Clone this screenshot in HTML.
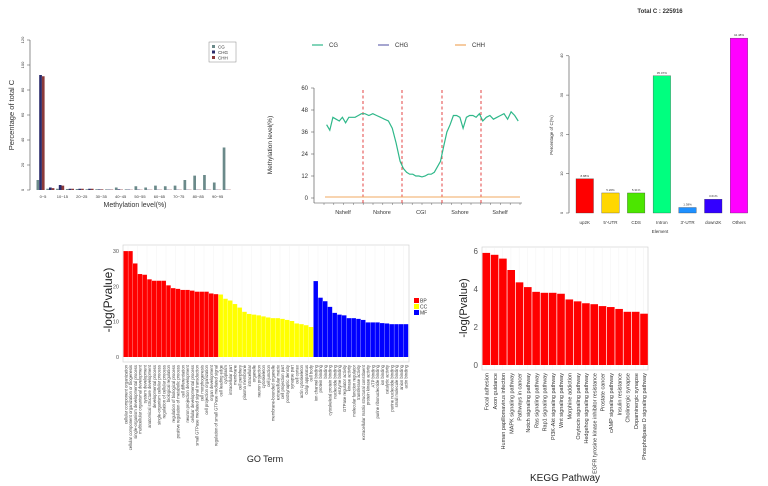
<!DOCTYPE html>
<html><head><meta charset="utf-8"><style>
html,body{margin:0;padding:0;background:#fff;}
svg{display:block;font-family:"Liberation Sans",Arial,sans-serif;}
</style></head><body>
<svg id="s" width="768" height="486" viewBox="0 0 768 486" xmlns="http://www.w3.org/2000/svg">
<g font-size="4.5" fill="#333">
<line x1="30" y1="40" x2="30" y2="190" stroke="#444" stroke-width="0.6"/>
<text x="14" y="115" font-size="7.5" transform="rotate(-90 14 115)" text-anchor="middle">Percentage of total C</text>
<text x="135" y="207" font-size="7" text-anchor="middle">Methylation level(%)</text>
<rect x="209" y="42" width="27" height="20" fill="#fff" stroke="#888" stroke-width="0.5"/>
<rect x="212" y="45" width="3" height="3" fill="#6b8a8a"/><text x="218" y="48.5">CG</text>
<rect x="212" y="50.5" width="3" height="3" fill="#2a2a6a"/><text x="218" y="54">CHG</text>
<rect x="212" y="56" width="3" height="3" fill="#8b3a3a"/><text x="218" y="59.5">CHH</text>
</g>
<g font-size="6" fill="#333">
<line x1="312" y1="45" x2="323" y2="45" stroke="#2fb88a" stroke-width="1.2"/><text x="329" y="47">CG</text>
<line x1="378" y1="45" x2="389" y2="45" stroke="#6b6bb0" stroke-width="1.2"/><text x="395" y="47">CHG</text>
<line x1="455" y1="45" x2="466" y2="45" stroke="#f0a860" stroke-width="1.2"/><text x="472" y="47">CHH</text>
<line x1="314" y1="88" x2="314" y2="203" stroke="#444" stroke-width="0.6"/>
<line x1="314" y1="203" x2="522" y2="203" stroke="#444" stroke-width="0.6"/>
<text x="272" y="145" transform="rotate(-90 272 145)" text-anchor="middle" font-size="6.5">Methylation level(%)</text>
<text x="343" y="214" text-anchor="middle" font-size="5.5">Nshelf</text>
<text x="382" y="214" text-anchor="middle" font-size="5.5">Nshore</text>
<text x="421" y="214" text-anchor="middle" font-size="5.5">CGI</text>
<text x="460" y="214" text-anchor="middle" font-size="5.5">Sshore</text>
<text x="500" y="214" text-anchor="middle" font-size="5.5">Sshelf</text>
</g>
<g font-size="4" fill="#333">
<text x="660" y="13" font-size="6" font-weight="bold" text-anchor="middle">Total C : 225916</text>
<line x1="569" y1="56" x2="569" y2="213" stroke="#444" stroke-width="0.6"/>
<text x="553" y="135" transform="rotate(-90 553 135)" text-anchor="middle" font-size="4.5">Percentage of C(%)</text>
<text x="660" y="233" text-anchor="middle" font-size="4.5">Element</text>
</g>
<rect x="123" y="245" width="286" height="117" fill="#fff" stroke="#ccc" stroke-width="0.6"/>
<text x="112" y="300" font-size="12" fill="#222" transform="rotate(-90 112 300)" text-anchor="middle">-log(Pvalue)</text>
<text x="265" y="462" font-size="9" fill="#222" text-anchor="middle">GO Term</text>
<g font-size="5" fill="#333">
<rect x="414" y="298" width="5" height="5" fill="#f00"/><text x="420" y="302.5">BP</text>
<rect x="414" y="304" width="5" height="5" fill="#ff0"/><text x="420" y="308.5">CC</text>
<rect x="414" y="310" width="5" height="5" fill="#00f"/><text x="420" y="314.5">MF</text>
</g>
<rect x="482" y="247" width="166" height="123" fill="#fff" stroke="#ccc" stroke-width="0.6"/>
<text x="467" y="308" font-size="11" fill="#222" transform="rotate(-90 467 308)" text-anchor="middle">-log(Pvalue)</text>
<text x="565" y="481" font-size="10" fill="#222" text-anchor="middle">KEGG Pathway</text>
<g id="dyn"></g>
</svg>
<script>
var NS="http://www.w3.org/2000/svg",g=document.getElementById("dyn");
function el(t,a,txt){var e=document.createElementNS(NS,t);for(var k in a)e.setAttribute(k,a[k]);if(txt!==undefined)e.textContent=txt;g.appendChild(e);return e;}
[0,20,40,60,80,100,120].forEach(function(v){var y=190-v*1.25;el("line",{x1:27,y1:y,x2:30,y2:y,stroke:"#444","stroke-width":0.5});el("text",{x:24,y:y,"font-size":4,fill:"#333",transform:"rotate(-90 24 "+y+")","text-anchor":"middle"},v);});
var cg=[8,1,1,0.8,0.8,0.6,0.6,0.5,2,0.5,3,2,3.5,3,3.5,8,11.5,12,6,34];
var chg=[92,2,4,1,1,1,0.5,0.3,0.5,0.3,0.3,0.2,0.2,0.2,0.2,0.2,0.2,0.2,0.2,0.2];
var chh=[91,1.5,3.5,1,1,1,0.5,0.3,0.3,0.2,0.2,0.2,0.2,0.2,0.2,0.2,0.2,0.2,0.2,0.2];
for(var k=0;k<20;k++){var x=36.5+9.8*k;
el("rect",{x:x,y:190-cg[k]*1.25,width:2.7,height:cg[k]*1.25,fill:"#6b8a8a"});
el("rect",{x:x+2.7,y:190-chg[k]*1.25,width:2.7,height:chg[k]*1.25,fill:"#2a2a6a"});
el("rect",{x:x+5.4,y:190-chh[k]*1.25,width:2.7,height:chh[k]*1.25,fill:"#8b3a3a"});}
["0~5","10~15","20~25","30~35","40~45","50~55","60~65","70~75","80~85","90~95"].forEach(function(t,i){el("text",{x:43+19.4*i,y:198,"font-size":4,fill:"#333","text-anchor":"middle"},t);});
[0,12,24,36,48,60].forEach(function(v){var y=198-v*22/12;el("line",{x1:311,y1:y,x2:314,y2:y,stroke:"#444","stroke-width":0.5});el("text",{x:308,y:y+2,"font-size":6,fill:"#333","text-anchor":"end"},v);});
[363,402,442,481].forEach(function(x){el("line",{x1:x,y1:90,x2:x,y2:203,stroke:"#e03030","stroke-width":0.9,"stroke-dasharray":"3,2.5"});});
for(var i=0;i<=20;i++){var x=324+i*9.8;el("line",{x1:x,y1:203,x2:x,y2:205,stroke:"#444","stroke-width":0.4});}
el("line",{x1:325,y1:197,x2:520,y2:197,stroke:"#f0a860","stroke-width":1});
var segs=[[40,37,44,43,42,44,41,44,44,44,45,46],[46,45,46,45,44,43,42,38,30,20],[16,14,13,13,12,12,11.5,12,13,13,14,17,20],[28,36,40,45,45,44,38,44,45,45,44,46],[42,44,45,43,44,45,46,43,47,45,42]];
var bounds=[325,363,402,442,481,520],pts=[];
segs.forEach(function(s,j){var a=bounds[j],b=bounds[j+1];s.forEach(function(v,i){var x=a+(b-a)*(i+0.5)/s.length;pts.push(x.toFixed(1)+","+(198-v*22/12).toFixed(1));});});
el("polyline",{points:pts.join(" "),fill:"none",stroke:"#2fb88a","stroke-width":1.2});
[0,10,20,30,40].forEach(function(v){var y=213-v*3.93;el("line",{x1:566,y1:y,x2:569,y2:y,stroke:"#444","stroke-width":0.5});el("text",{x:563,y:y,"font-size":4,fill:"#333",transform:"rotate(-90 563 "+y+")","text-anchor":"middle"},v);});
var ev=[8.7,5.1,5.1,34.9,1.4,3.5,44.5],ec=["#f00","#ffd700","#4ce600","#00ff7f","#1e90ff","#3300ff","#ff00ff"],
en=["up2K","5'-UTR","CDS","Intron","3'-UTR","down2K","Others"],ep=["8.88%","5.26%","5.31%","35.07%","1.38%","3.61%","44.48%"];
ev.forEach(function(v,i){var x=576+25.7*i;el("rect",{x:x,y:213-v*3.93,width:17.5,height:v*3.93,fill:ec[i],stroke:"#333","stroke-width":0.3});
el("text",{x:x+8.75,y:211-v*3.93,"font-size":3,fill:"#333","text-anchor":"middle"},ep[i]);
el("text",{x:x+8.75,y:224,"font-size":4.5,fill:"#333","text-anchor":"middle"},en[i]);});
for(var x=128;x<409;x+=9.5)el("line",{x1:x,y1:245,x2:x,y2:362,stroke:"#f0f0f0","stroke-width":0.4});
[0,10,20,30].forEach(function(v){var y=357-v*3.53;el("text",{x:119,y:y+2,"font-size":5.5,fill:"#555","text-anchor":"end"},v);});
var bp=[30,30,26.5,23.5,23.3,22,21.6,21.6,21.6,20.3,19.5,19.3,19,19,18.8,18.5,18.5,18.5,18,17.8],
cc=[17.7,16.5,16,15,14,12.8,12.2,12,11.8,11.5,11.2,11,11,10.8,10.5,10.2,9.5,9.3,9,8.5],
mf=[21.5,16.8,15.8,14.2,12.5,12,11.8,11,11,10.8,10.5,9.8,9.8,9.8,9.6,9.5,9.3,9.3,9.3,9.3];
var gol=["cellular component organization","cellular component organization or biogenesis","single-organism developmental process","multicellular organismal development","system development","anatomical structure development","developmental process","single-organism cellular process","regulation of cellular process","biological regulation","regulation of biological process","positive regulation of metabolic process","cell differentiation","neuron projection development","cellular developmental process","small GTPase mediated signal transduction","cell morphogenesis","cell projection organization","organ development","regulation of small GTPase mediated signal",
"cell leading edge","cytoplasm","intracellular part","membrane","cell periphery","plasma membrane","intracellular","organelle","neuron projection","cytoskeleton","cell junction","membrane-bounded organelle","extracellular matrix","cell projection part","postsynaptic density","synapse part","cell cortex","actin cytoskeleton","Golgi apparatus","cell body",
"ion channel binding","protein binding","binding","cytoskeletal protein binding","nucleotide binding","enzyme binding","GTPase regulator activity","kinase activity","molecular function regulator","transferase activity","extracellular matrix structural constituent","protein kinase activity","ATP binding","purine ribonucleotide binding","ion binding","catalytic activity","purine nucleotide binding","small molecule binding","anion binding","actin binding"];
var all=bp.concat(cc,mf),bw=285/60;
all.forEach(function(v,i){var x=123.5+bw*i;var c=i<20?"#f00":(i<40?"#ff0":"#00f");
el("rect",{x:x,y:357-v*3.53,width:bw-0.3,height:v*3.53,fill:c});
var tx=x+bw/2+1.5;el("text",{x:tx,y:365,"font-size":4.2,fill:"#444","text-anchor":"end",transform:"rotate(-90 "+tx+" 365)"},gol[i]);});
for(var x=486;x<648;x+=8.3)el("line",{x1:x,y1:247,x2:x,y2:370,stroke:"#f0f0f0","stroke-width":0.4});
[0,2,4,6].forEach(function(v){var y=365-v*19;el("text",{x:478,y:y+3,"font-size":8,fill:"#555","text-anchor":"end"},v);});
var kv=[5.9,5.8,5.6,5.0,4.35,4.1,3.85,3.8,3.8,3.75,3.45,3.35,3.25,3.2,3.1,3.05,2.95,2.8,2.8,2.7];
var kn=["Focal adhesion","Axon guidance","Human papillomavirus infection","MAPK signaling pathway","Pathways in cancer","Notch signaling pathway","Ras signaling pathway","Rap1 signaling pathway","PI3K-Akt signaling pathway","Wnt signaling pathway","Morphine addiction","Oxytocin signaling pathway","Hedgehog signaling pathway","EGFR tyrosine kinase inhibitor resistance","Prostate cancer","cAMP signaling pathway","Insulin resistance","Cholinergic synapse","Dopaminergic synapse","Phospholipase D signaling pathway"];
kv.forEach(function(v,i){var x=482.5+8.3*i;el("rect",{x:x,y:365-v*19,width:7.6,height:v*19,fill:"#f00"});
var tx=x+6;el("text",{x:tx,y:373,"font-size":5.5,fill:"#333","text-anchor":"end",transform:"rotate(-90 "+tx+" 373)"},kn[i]);});
</script>
</body></html>
